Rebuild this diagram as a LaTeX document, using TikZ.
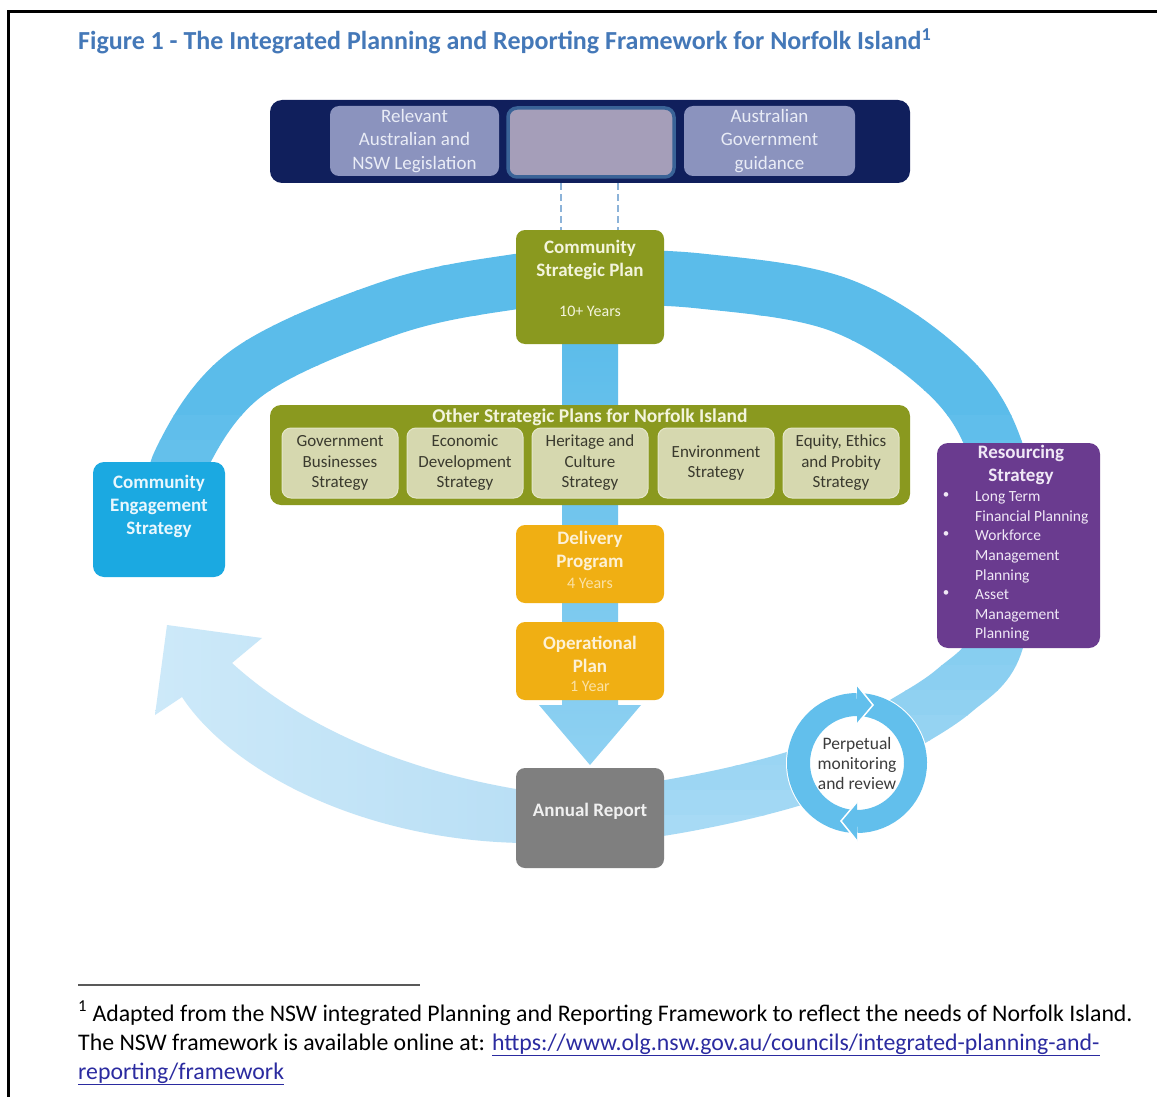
\documentclass[tikz,border=0pt]{standalone}
\usepackage{fontspec}
\setmainfont{Carlito}
\usetikzlibrary{arrows.meta}
\newcommand\myfs[2]{\fontsize{#1}{#2}\selectfont}
\definecolor{titleblue}{HTML}{4478B8}
\definecolor{navy}{HTML}{101F5C}
\definecolor{lav}{HTML}{8B93BE}
\definecolor{lavtext}{HTML}{E9ECF6}
\definecolor{midfill}{HTML}{A59EB9}
\definecolor{midborder}{HTML}{3A6397}
\definecolor{olive}{HTML}{8A991F}
\definecolor{olivetext}{HTML}{F3F4DC}
\definecolor{sfill}{HTML}{D6D8AF}
\definecolor{sborder}{HTML}{E4E6C8}
\definecolor{stext}{HTML}{3A3A2E}
\definecolor{amber}{HTML}{F0AF13}
\definecolor{ambertext}{HTML}{FDF1D6}
\definecolor{amberlight}{HTML}{FBE2A6}
\definecolor{greybox}{HTML}{7F7F7F}
\definecolor{cefill}{HTML}{1BA9E1}
\definecolor{cetext}{HTML}{E9F7FD}
\definecolor{purp}{HTML}{6A3B8F}
\definecolor{restext}{HTML}{F0E8F6}
\definecolor{ringhi}{HTML}{5BBCEA}
\definecolor{ringlo}{HTML}{A9DBF5}
\definecolor{lightL}{HTML}{CDE9F9}
\definecolor{lightR}{HTML}{B9DFF5}
\definecolor{shaftlo}{HTML}{8FD1F2}
\definecolor{circ}{HTML}{62BFEC}
\definecolor{dashc}{HTML}{8CB3D9}
\definecolor{linkc}{HTML}{2B2BA0}
\definecolor{pmrtext}{HTML}{3C3C3C}
\begin{document}
\begin{tikzpicture}[x=1pt,y=-1pt,
  pbox/.style={rectangle, rounded corners=9pt, inner sep=0pt, align=center},
  boldtxt/.style={font=\myfs{19}{23}\bfseries, align=center, inner sep=0pt},
  smalltxt/.style={font=\myfs{16}{18}, align=center, inner sep=0pt},
  toptxt/.style={font=\myfs{19}{23.5}, text=lavtext},
  sbox/.style={pbox, fill=sfill, draw=sborder, line width=1pt, minimum width=116pt, minimum height=70pt, text=stext, font=\myfs{17}{20.5}},
  resline/.style={anchor=base west, inner sep=0pt, font=\myfs{15.5}{19}, text=restext},
  dashline/.style={dashc, line width=2pt, dash pattern=on 7pt off 4pt},
  ringline/.style={line width=55pt},
  foot/.style={anchor=base west, inner sep=0pt, font=\myfs{23.8}{29}}
]
\useasboundingbox (0,0) rectangle (1157,1097);
\fill[white] (0,0) rectangle (1157,1097);

% frame lines
\draw[line width=3pt] (1157,12) -- (8,12) -- (8,1097);

% title
\node[anchor=base west, inner sep=0pt, text=titleblue, font=\myfs{26}{30}\bfseries] (title) at (78,50)
  {Figure 1 - The Integrated Planning and Reporting Framework for Norfolk Island\textsuperscript{1}};

% main ring with vertical gradient
\foreach \i in {0,...,25} {
  \pgfmathsetmacro\ya{240+\i*25}
  \pgfmathtruncatemacro\pc{min(100,max(0,(\ya+12-400)/4.4))}
  \colorlet{ringcur}{ringlo!\pc!ringhi}
  \begin{scope}
    \clip (0,\ya) rectangle (1157,\ya+25.6);
    \draw[ringline, ringcur] plot[smooth, tension=0.6] coordinates {(175,520) (180,462) (247,373) (390,308) (513,282) (590,278) (700,281) (840,305) (945,372) (995,448) (1007,545) (995,645) (955,690) (900,726) (830,765) (760,788) (664,808) (590,815)};
  \end{scope}
}

% light return arrow (bottom left)
\shade[left color=lightL, right color=lightR]
  (522,790) .. controls (400,770) and (300,725) .. (232,663)
  -- (262,638) -- (167,625) -- (155,715) -- (182,697)
  .. controls (230,770) and (360,840) .. (522,843) -- cycle;

% central downward arrow
\shade[top color=ringhi, bottom color=shaftlo]
  (562,330) -- (618,330) -- (618,705) -- (641,705) -- (590,765) -- (539,705) -- (562,705) -- cycle;

% top bar
\node[pbox, fill=navy, minimum width=640pt, minimum height=83pt, rounded corners=12pt] (bar) at (590,141.5) {};
\node[pbox, fill=lav, minimum width=169pt, minimum height=70pt, toptxt] (leg) at (414.5,141) {Relevant\\Australian and\\NSW Legislation};
\node[pbox, fill=midfill, draw=midborder, line width=3.5pt, minimum width=166pt, minimum height=69pt] (mid) at (591,142.5) {};
\node[pbox, fill=lav, minimum width=171pt, minimum height=70pt, toptxt] (gov) at (769.5,141) {Australian\\Government\\guidance};

% community strategic plan
\node[pbox, fill=olive, minimum width=148pt, minimum height=114pt] (csp) at (590,287) {};
\node[boldtxt, text=olivetext] (csp-t) at (590,260) {Community\\Strategic Plan};
\node[smalltxt, text=olivetext] (csp-y) at (590,311) {10+ Years};

% dashed connectors
\coordinate (d1) at (561,0);
\coordinate (d2) at (618,0);
\draw[dashline] (bar.south -| d1) -- (csp.north -| d1);
\draw[dashline] (bar.south -| d2) -- (csp.north -| d2);

% other strategic plans
\node[pbox, fill=olive, minimum width=640pt, minimum height=100pt, rounded corners=11pt] (osp) at (590,455) {};
\node[boldtxt, text=olivetext, font=\myfs{19.5}{23}\bfseries] (osp-t) at (590,417) {Other Strategic Plans for Norfolk Island};
\node[sbox] (s1) at (340,463) {Government\\Businesses\\Strategy};
\node[sbox] (s2) at (465,463) {Economic\\Development\\Strategy};
\node[sbox] (s3) at (590,463) {Heritage and\\Culture\\Strategy};
\node[sbox] (s4) at (716,463) {Environment\\Strategy};
\node[sbox] (s5) at (841,463) {Equity, Ethics\\and Probity\\Strategy};

% delivery program and operational plan
\node[pbox, fill=amber, minimum width=148pt, minimum height=78pt] (dp) at (590,564) {};
\node[boldtxt, text=ambertext] (dp-t) at (590,551) {Delivery\\Program};
\node[smalltxt, text=amberlight] (dp-y) at (590,583) {4 Years};
\node[pbox, fill=amber, minimum width=148pt, minimum height=78pt] (op) at (590,661) {};
\node[boldtxt, text=ambertext] (op-t) at (590,654) {Operational\\Plan};
\node[smalltxt, text=amberlight] (op-y) at (590,686) {1 Year};

% annual report
\node[pbox, fill=greybox, minimum width=148pt, minimum height=100pt] (ar) at (590,818) {};
\node[boldtxt, text=white!94!black] (ar-t) at (590,811) {Annual Report};

% community engagement strategy
\node[pbox, fill=cefill, minimum width=132pt, minimum height=115pt, rounded corners=11pt] (ce) at (159,519.5) {};
\node[boldtxt, text=cetext] (ce-t) at (159,506) {Community\\Engagement\\Strategy};

% resourcing strategy
\node[pbox, fill=purp, minimum width=163pt, minimum height=205pt, rounded corners=11pt] (res) at (1018.5,545.5) {};
\node[boldtxt, text=restext] (res-t) at (1021,465) {Resourcing\\Strategy};
\foreach \yy/\tt [count=\k] in {501/Long Term, 521/Financial Planning, 540/Workforce, 560/Management, 580/Planning, 599/Asset, 619/Management, 638/Planning}
  \node[resline] (res-l\k) at (975,\yy) {\tt};
\foreach \yy [count=\k] in {496,535,594}
  \node[inner sep=0pt, text=restext, font=\myfs{13}{15}] (res-b\k) at (946,\yy) {\textbullet};

% perpetual monitoring circle
\node[circle, fill=white, minimum size=142pt, inner sep=0pt, align=center, font=\myfs{17.5}{20}, text=pmrtext] (pmr) at (857,763) {Perpetual\\monitoring\\and review};
\draw[line width=23pt, circ] (pmr.center) ++(275:58.5) arc[start angle=275, end angle=450, radius=58.5];
\draw[line width=23pt, circ] (pmr.center) ++(96:58.5) arc[start angle=96, end angle=270, radius=58.5];
\fill[circ] (857,685) -- (873,705) -- (857,724) -- cycle;
\draw[white, line width=1.5pt] (857,685) -- (873,705) -- (857,724);
\fill[circ] (857,802) -- (841,821) -- (857,841) -- cycle;
\draw[white, line width=1.5pt] (857,802) -- (841,821) -- (857,841);

% footnote
\draw[black!65, line width=2pt] (78,985) -- (420,985);
\node[foot] (fn1) at (78,1021)
  {\textsuperscript{1} Adapted from the NSW integrated Planning and Reporting Framework to reflect the needs of Norfolk Island.};
\node[foot] (fn2) at (78,1050)
  {The NSW framework is available online at: \textcolor{linkc}{\underline{https://www.olg.nsw.gov.au/councils/integrated-planning-and-}}};
\node[foot] (fn3) at (78,1079)
  {\textcolor{linkc}{\underline{reporting/framework}}};
\end{tikzpicture}
\end{document}
